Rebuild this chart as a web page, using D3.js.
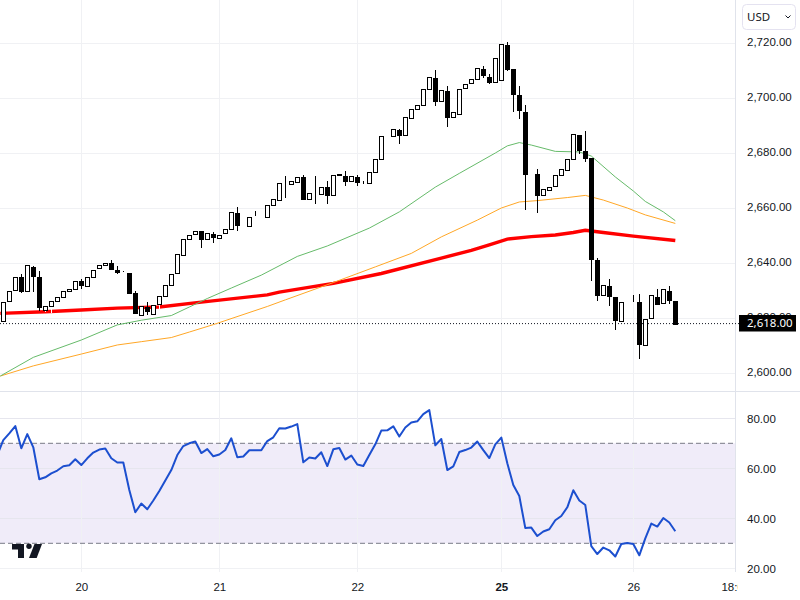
<!DOCTYPE html>
<html>
<head>
<meta charset="utf-8">
<script src="https://cdn.jsdelivr.net/npm/d3@7"></script>
<style>
  html, body { margin: 0; padding: 0; background: #fff; }
  svg { display: block; font-family: "Noto Sans", sans-serif; }
  .axis path { display: none; }
  .axis text { fill: #131722; font-size: 11.5px; }
</style>
</head>
<body>
<svg id="chart" width="800" height="600"></svg>
<script>
const open = [
  2619.0, 2626.2, 2630.3, 2634.9, 2629.7, 2638.8, 2634.9, 2623.0, 2624.6, 2626.4,
  2628.0, 2630.2, 2630.9, 2633.5, 2632.0, 2635.3, 2638.3, 2639.6, 2640.0, 2637.6,
  2637.1, 2636.6, 2629.1, 2621.3, 2624.0, 2621.8, 2625.1, 2628.1, 2632.0, 2636.4,
  2643.3, 2649.1, 2650.5, 2651.6, 2648.7, 2650.5, 2649.1, 2650.9, 2652.4, 2658.2,
  2654.0, 2653.8, 2657.3, 2657.3, 2657.1, 2661.1, 2662.9, 2669.0, 2668.7, 2669.8,
  2671.4, 2663.3, 2665.5, 2664.9, 2667.6, 2664.7, 2672.4, 2671.9, 2669.8, 2671.3,
  2669.4, 2669.1, 2673.1, 2677.8, 2686.4, 2686.3, 2688.5, 2686.5, 2693.1, 2696.2,
  2697.5, 2703.3, 2707.4, 2698.9, 2702.7, 2693.1, 2694.5, 2703.5, 2705.5, 2706.9,
  2710.7, 2707.7, 2705.8, 2706.4, 2719.4, 2710.7, 2701.1, 2695.0, 2672.5, 2672.4,
  2664.7, 2666.9, 2667.9, 2672.0, 2673.8, 2677.8, 2686.7, 2680.8, 2678.4, 2641.2,
  2628.4, 2631.7, 2627.6, 2618.8, 2626.3, 2626.2, 2625.9, 2610.5, 2620.0, 2627.9,
  2625.5, 2629.9, 2626.2
]
const close = [
  2626.0, 2630.0, 2635.1, 2629.9, 2639.3, 2635.6, 2623.9, 2624.6, 2626.4, 2627.9,
  2630.0, 2630.8, 2633.7, 2632.2, 2635.1, 2637.7, 2639.5, 2640.2, 2638.0, 2636.8,
  2637.0, 2629.5, 2621.7, 2624.4, 2622.4, 2624.9, 2628.0, 2632.0, 2636.0, 2643.4,
  2649.0, 2650.4, 2651.6, 2648.8, 2650.9, 2649.3, 2650.2, 2652.4, 2658.5, 2653.7,
  2653.9, 2656.9, 2657.3, 2657.2, 2661.3, 2663.3, 2669.1, 2669.0, 2669.8, 2671.5,
  2663.5, 2665.5, 2665.5, 2667.6, 2664.8, 2672.0, 2671.9, 2670.0, 2671.6, 2669.6,
  2669.3, 2673.1, 2677.8, 2686.3, 2686.3, 2688.7, 2686.7, 2693.1, 2696.2, 2697.5,
  2703.3, 2707.6, 2699.1, 2702.9, 2693.3, 2694.9, 2703.5, 2705.1, 2706.9, 2710.9,
  2708.6, 2705.9, 2714.5, 2719.6, 2710.8, 2701.7, 2695.5, 2672.5, 2672.4, 2664.9,
  2666.9, 2667.9, 2672.0, 2674.2, 2677.8, 2686.9, 2681.2, 2678.3, 2641.7, 2628.6,
  2632.0, 2628.2, 2619.1, 2625.8, 2626.2, 2626.1, 2610.8, 2619.9, 2628.4, 2625.5,
  2630.5, 2626.8, 2618.0
]
const high = [
  2626.0, 2630.0, 2635.1, 2636.0, 2639.3, 2639.0, 2637.2, 2624.6, 2626.4, 2627.9,
  2630.0, 2630.8, 2633.7, 2634.3, 2635.1, 2637.7, 2639.5, 2640.2, 2641.2, 2639.0,
  2637.1, 2636.6, 2630.0, 2624.4, 2625.8, 2624.9, 2628.0, 2632.0, 2636.0, 2643.4,
  2649.0, 2650.4, 2651.6, 2651.8, 2650.9, 2651.3, 2650.2, 2652.4, 2658.5, 2660.4,
  2654.0, 2656.9, 2659.0, 2657.3, 2661.3, 2663.3, 2669.1, 2671.7, 2669.8, 2671.5,
  2672.1, 2665.5, 2671.7, 2667.6, 2669.9, 2672.0, 2672.4, 2673.6, 2671.6, 2672.1,
  2670.0, 2673.1, 2677.8, 2686.3, 2686.4, 2688.7, 2688.9, 2693.1, 2696.2, 2697.5,
  2703.3, 2707.6, 2710.3, 2702.9, 2704.5, 2694.9, 2703.5, 2705.1, 2706.9, 2710.9,
  2711.7, 2708.8, 2714.5, 2719.6, 2720.5, 2710.7, 2704.5, 2697.5, 2672.5, 2674.2,
  2666.9, 2667.9, 2672.0, 2674.2, 2677.8, 2686.9, 2686.7, 2688.1, 2678.4, 2642.0,
  2632.0, 2634.3, 2627.6, 2625.8, 2626.3, 2628.5, 2628.8, 2619.9, 2628.4, 2630.7,
  2630.5, 2631.7, 2626.2
]
const low = [
  2619.0, 2626.2, 2630.3, 2629.3, 2629.7, 2629.7, 2622.7, 2622.3, 2622.0, 2626.4,
  2628.0, 2630.2, 2630.9, 2630.5, 2632.0, 2635.3, 2638.3, 2639.6, 2638.0, 2636.1,
  2637.0, 2629.1, 2621.7, 2621.3, 2621.2, 2621.8, 2623.0, 2628.1, 2632.0, 2636.4,
  2643.3, 2649.1, 2650.5, 2645.7, 2648.7, 2647.5, 2649.1, 2650.9, 2652.4, 2651.9,
  2653.9, 2653.8, 2657.2, 2657.2, 2657.1, 2661.1, 2662.9, 2663.7, 2668.7, 2669.8,
  2663.5, 2663.3, 2661.7, 2664.9, 2661.7, 2664.7, 2671.9, 2668.1, 2669.8, 2668.1,
  2668.7, 2669.1, 2673.1, 2677.8, 2686.3, 2686.3, 2683.3, 2686.5, 2693.1, 2696.2,
  2697.5, 2703.3, 2697.2, 2698.9, 2689.6, 2693.1, 2694.5, 2703.5, 2705.5, 2706.9,
  2707.5, 2705.2, 2705.8, 2706.4, 2710.0, 2695.1, 2692.5, 2659.4, 2672.4, 2658.4,
  2664.7, 2666.9, 2667.9, 2672.0, 2673.8, 2677.8, 2679.9, 2676.9, 2633.6, 2626.4,
  2628.4, 2624.6, 2615.7, 2618.8, 2626.2, 2626.1, 2605.2, 2610.5, 2620.0, 2625.1,
  2625.5, 2625.3, 2618.0
]

// moving averages, read at the bars listed next to them
const greenBars = [-0.5, 5, 13, 19, 23, 28, 31, 34, 38, 43, 49, 54, 61, 66, 72, 76, 82, 84, 86, 88, 92, 96, 98, 102, 105, 107, 110, 112]
const greenValues = [2599.0, 2605.8, 2612.1, 2617.6, 2619.3, 2621.0, 2624.1, 2627.2, 2631.0, 2635.7, 2642.5, 2646.3, 2652.8, 2658.7, 2667.7, 2672.7, 2680.1, 2682.7, 2683.9, 2683.0, 2680.7, 2680.5, 2679.0, 2671.4, 2666.3, 2662.5, 2658.7, 2655.5]
const orangeBars = [-0.5, 5, 13, 19, 23, 28, 31, 35, 44, 47, 55, 62, 68, 73, 79, 83, 86, 89, 94, 97, 100, 104, 107, 112]
const orangeValues = [2599.0, 2602.7, 2607.0, 2610.3, 2611.5, 2613.0, 2615.0, 2617.7, 2624.3, 2626.7, 2633.0, 2638.7, 2643.6, 2649.6, 2655.7, 2660.1, 2662.3, 2662.8, 2663.9, 2664.7, 2663.0, 2660.1, 2657.6, 2654.5]
const redBars = [-0.5, 7, 13, 19, 26, 33, 44, 46, 55, 63, 73, 78, 81, 84, 88, 92, 95, 97, 100, 105, 112]
const redValues = [2621.8, 2622.4, 2623.0, 2623.7, 2624.1, 2625.9, 2628.5, 2629.5, 2632.7, 2636.3, 2641.9, 2644.7, 2646.7, 2648.8, 2649.7, 2650.3, 2651.2, 2652.0, 2651.2, 2649.9, 2648.3]

// first value belongs to the bar before the left edge
const rsiValues = [
  65.3, 71.3, 74.0, 76.9, 68.0, 73.7, 68.4, 55.6, 56.4, 58.0, 59.1,
  60.8, 61.2, 63.6, 61.3, 64.0, 66.3, 67.5, 67.9, 64.0, 62.3,
  62.3, 51.3, 42.4, 45.9, 43.6, 47.1, 50.9, 55.1, 59.3, 65.3,
  68.9, 70.0, 70.7, 66.1, 67.7, 64.8, 65.5, 67.3, 72.0, 64.4,
  64.7, 67.2, 67.2, 67.2, 70.9, 72.4, 76.0, 75.9, 76.7, 77.7,
  62.4, 64.3, 63.9, 66.4, 60.9, 67.6, 68.1, 63.5, 65.1, 61.5,
  60.9, 65.3, 69.6, 75.1, 75.2, 76.8, 72.7, 76.3, 78.3, 78.8,
  81.7, 83.3, 69.2, 71.7, 59.3, 60.8, 66.5, 67.3, 68.3, 70.7,
  67.3, 64.1, 69.6, 72.3, 62.0, 53.3, 48.9, 36.1, 36.3, 32.9,
  34.7, 35.6, 39.2, 40.9, 44.4, 51.2, 47.1, 45.3, 28.9, 25.7,
  28.3, 27.2, 24.7, 29.7, 30.1, 29.7, 25.2, 32.0, 37.9, 36.7,
  40.1, 38.3, 34.8
]

const priceTicks = [2720, 2700, 2680, 2660, 2640, 2620, 2600]
const rsiTicks = [80, 60, 40, 20]
const rsiBand = [70, 30]
const dayBars = [13, 36, 59, 83, 105, 122]
const dayLabels = ['20', '21', '22', '25', '26', '18:00']
const lastPrice = 2618

const axisX = 735.5
const svg = d3.select('#chart')

const x = d3.scaleLinear().domain([0, 112]).range([3.3, 675.3])
const y = d3.scaleLinear().domain([2720, 2600]).range([43.3, 373.3])
const yRsi = d3.scaleLinear().domain([80, 20]).range([418.3, 568.3])
const gridColor = '#f0f1f4'
const borderColor = '#e0e3eb'

// RSI band goes under the grid
svg.append('rect')
  .attr('x', 0)
  .attr('y', yRsi(rsiBand[0]))
  .attr('width', axisX)
  .attr('height', yRsi(rsiBand[1]) - yRsi(rsiBand[0]))
  .attr('fill', '#f0ecf9')

// grids
const grid = svg.append('g').attr('shape-rendering', 'crispEdges')
grid.selectAll('.price-grid').data(priceTicks).join('line')
  .attr('x1', 0).attr('x2', axisX)
  .attr('y1', d => y(d)).attr('y2', d => y(d))
  .attr('stroke', gridColor)
grid.append('g').selectAll('line').data(rsiTicks).join('line')
  .attr('x1', 0).attr('x2', axisX)
  .attr('y1', d => yRsi(d)).attr('y2', d => yRsi(d))
  .attr('stroke', d => (d === 20 ? gridColor : '#e6e6ee'))
grid.append('g').selectAll('line').data(dayBars.slice(0, 5)).join('line')
  .attr('x1', d => x(d)).attr('x2', d => x(d))
  .attr('y1', 0).attr('y2', 572)
  .attr('stroke', gridColor)

// pane borders
grid.append('line')
  .attr('x1', 0).attr('x2', 800).attr('y1', 391).attr('y2', 391)
  .attr('stroke', borderColor)
grid.append('line')
  .attr('x1', axisX).attr('x2', axisX).attr('y1', 0).attr('y2', 572)
  .attr('stroke', borderColor)

// last price dotted line
svg.append('line')
  .attr('x1', 0).attr('x2', 739)
  .attr('y1', y(lastPrice) - 0.2).attr('y2', y(lastPrice) - 0.2)
  .attr('stroke', '#131722')
  .attr('stroke-dasharray', '1 2')

// moving averages sit below the candles
const drawAverage = (bars, values, color, width) => {
  const line = d3.line()
    .x(i => x(bars[i]))
    .y(i => y(values[i]))
  svg.append('path')
    .attr('d', line(d3.range(bars.length)))
    .attr('fill', 'none')
    .attr('stroke', color)
    .attr('stroke-width', width)
}
drawAverage(redBars, redValues, '#ff0000', 3.4)
drawAverage(orangeBars, orangeValues, '#ffa726', 1)
drawAverage(greenBars, greenValues, '#66bb6a', 1)

// candles
const candles = svg.append('g').attr('shape-rendering', 'crispEdges')
  .selectAll('g')
  .data(d3.range(open.length))
  .join('g')

// up candles have white wicks, so they only show where they cross a line
candles.append('line')
  .attr('x1', i => Math.round(x(i)) + 0.5)
  .attr('x2', i => Math.round(x(i)) + 0.5)
  .attr('y1', i => y(high[i]))
  .attr('y2', i => y(low[i]))
  .attr('stroke', i => (close[i] > open[i] ? '#ffffff' : '#000000'))

candles.filter(i => open[i] !== close[i]).append('rect')
  .attr('x', i => Math.round(x(i)) - 1.5)
  .attr('width', 4)
  .attr('y', i => Math.round(y(Math.max(open[i], close[i]))) + 0.5)
  .attr('height', i => Math.round(Math.abs(y(open[i]) - y(close[i]))))
  .attr('fill', i => (close[i] > open[i] ? '#ffffff' : '#000000'))
  .attr('stroke', '#000000')

// RSI
svg.append('g').selectAll('line').data(rsiBand).join('line')
  .attr('x1', 0).attr('x2', axisX)
  .attr('y1', d => yRsi(d)).attr('y2', d => yRsi(d))
  .attr('stroke', '#787b86')
  .attr('stroke-dasharray', '5 3')

const rsiLine = d3.line()
  .x((d, i) => x(i - 1))
  .y(d => yRsi(d))
svg.append('path')
  .attr('d', rsiLine(rsiValues))
  .attr('fill', 'none')
  .attr('stroke', '#1c4fcf')
  .attr('stroke-width', 2)
  .attr('stroke-linejoin', 'round')

// axes
svg.append('g')
  .attr('class', 'axis')
  .attr('transform', 'translate(747,-1.6)')
  .call(d3.axisRight(y).tickValues(priceTicks).tickSize(0).tickPadding(0).tickFormat(d3.format(',.2f')))
svg.append('g')
  .attr('class', 'axis')
  .attr('transform', 'translate(747,0.5)')
  .call(d3.axisRight(yRsi).tickValues(rsiTicks).tickSize(0).tickPadding(0).tickFormat(d3.format('.2f')))

// the time axis is cut off at the price axis edge
svg.append('clipPath').attr('id', 'time-clip')
  .append('rect').attr('x', 0).attr('y', 572).attr('width', 738).attr('height', 28)
const timeAxis = d3.axisBottom(x)
  .tickValues(dayBars)
  .tickSize(0)
  .tickPadding(0)
  .tickFormat((d, i) => dayLabels[i])
svg.append('g')
  .attr('clip-path', 'url(#time-clip)')
  .append('g')
  .attr('class', 'axis')
  .attr('transform', 'translate(0,583)')
  .call(timeAxis)
  .selectAll('text')
  .attr('font-weight', (d, i) => (dayLabels[i] === '25' ? 600 : 400))

// last price tag
const tag = svg.append('g')
tag.append('rect')
  .attr('x', 739).attr('y', y(lastPrice) - 8.8)
  .attr('width', 57).attr('height', 16.5)
  .attr('fill', '#000000')
tag.append('text')
  .attr('x', 747).attr('y', y(lastPrice))
  .attr('dy', '0.32em')
  .attr('fill', '#ffffff')
  .attr('font-size', 11.5)
  .text(d3.format(',.2f')(lastPrice))

// currency selector
const currency = svg.append('g')
currency.append('rect')
  .attr('x', 742.5).attr('y', 4.5)
  .attr('width', 53).attr('height', 25)
  .attr('rx', 4)
  .attr('fill', '#fff')
  .attr('stroke', '#e4e2f0')
currency.append('text')
  .attr('x', 747).attr('y', 17)
  .attr('dy', '0.35em')
  .attr('fill', '#131722')
  .attr('font-size', 11.5)
  .text('USD')
currency.append('path')
  .attr('d', 'M785.5 15.5 L788 18 L790.5 15.5')
  .attr('fill', 'none')
  .attr('stroke', '#131722')

// watermark logo
const logo = svg.append('g').attr('fill', '#131722')
logo.append('path').attr('d', 'M12 544H24V558H18V549.5H12Z')
logo.append('circle').attr('cx', 29).attr('cy', 546.2).attr('r', 2.7)
logo.append('path').attr('d', 'M34.5 544H42L36.7 558H29Z')
</script>
</body>
</html>
